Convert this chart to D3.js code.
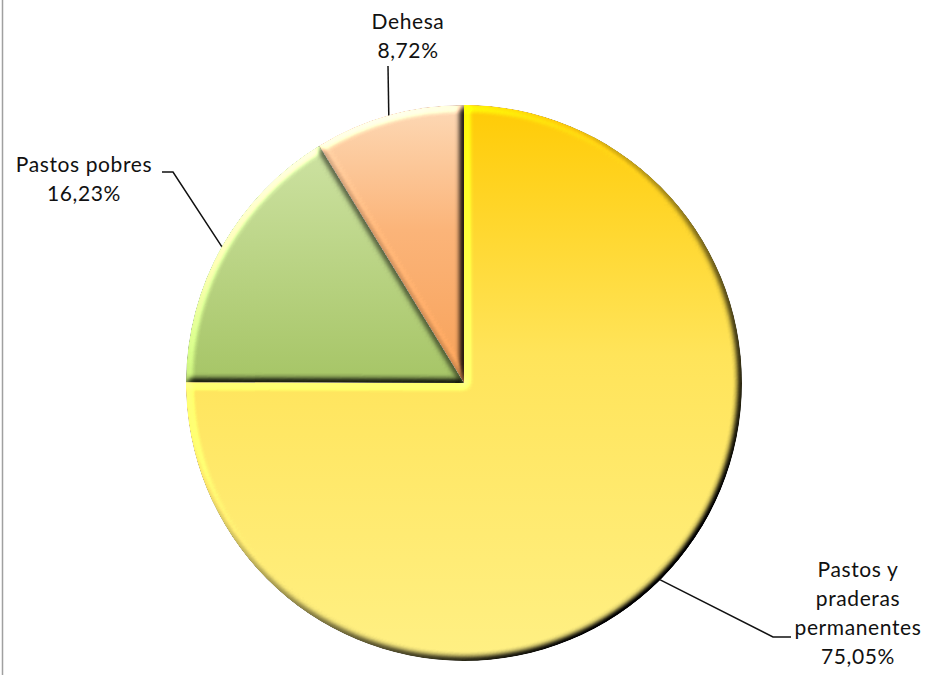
<!DOCTYPE html>
<html>
<head>
<meta charset="utf-8">
<script src="https://cdn.jsdelivr.net/npm/d3@7"></script>
<style>
  html, body { margin: 0; padding: 0; background: #fff; }
  svg { display: block; }
  text { font-family: Lato, "Open Sans", sans-serif; font-size: 21px; fill: #111; letter-spacing: 0.6px; }
</style>
</head>
<body>
<script>
// ---- data ----
const categories = ["Pastos y praderas permanentes", "Pastos pobres", "Dehesa"];
const values = [75.05, 16.23, 8.72];
const labelNameLines = [["Pastos y", "praderas", "permanentes"], ["Pastos pobres"], ["Dehesa"]];

// ---- styling / layout ----
const W = 928, H = 675;
const cx = 464, cy = 383, R = 278;
const gradStops = [
  [["0%", "#ffcb05"], ["45%", "#ffe45a"], ["100%", "#fff084"]],
  [["0%", "#cde2a2"], ["100%", "#a6c566"]],
  [["0%", "#fdd9b6"], ["45%", "#fbb479"], ["100%", "#f7a158"]]
];
// label layout: center x, first baseline, elbow point, end of horizontal segment
const labelLayout = [
  { x: 858, y: 577, elbow: [773, 637], end: [791, 637] },
  { x: 84,  y: 172, elbow: [173, 172], end: [162, 172] },
  { x: 408, y: 29,  elbow: [388, 66],  end: null }
];
const lineH = 29;

const fmt = d3.formatLocale({ decimal: ",", thousands: ".", grouping: [3], currency: ["", "€"] }).format(".2f");

const svg = d3.select("body").append("svg").attr("width", W).attr("height", H);
const defs = svg.append("defs");

// bevel filter
const f = defs.append("filter").attr("id", "bevel")
  .attr("x", "-5%").attr("y", "-5%").attr("width", "110%").attr("height", "110%")
  .attr("color-interpolation-filters", "sRGB");
f.append("feGaussianBlur").attr("in", "SourceAlpha").attr("stdDeviation", 3.8).attr("result", "blur");
const dl = f.append("feDiffuseLighting").attr("in", "blur").attr("surfaceScale", 5)
  .attr("diffuseConstant", 1).attr("lighting-color", "#ffffff").attr("result", "light");
dl.append("feDistantLight").attr("azimuth", 225).attr("elevation", 45);
f.append("feComposite").attr("in", "SourceGraphic").attr("in2", "light")
  .attr("operator", "arithmetic").attr("k1", 1.414).attr("k2", 0).attr("k3", 0).attr("k4", 0).attr("result", "lit");
f.append("feComposite").attr("in", "lit").attr("in2", "SourceAlpha").attr("operator", "in");

gradStops.forEach((stops, i) => {
  const g = defs.append("linearGradient").attr("id", "g" + i)
    .attr("x1", 0).attr("y1", 0).attr("x2", 0).attr("y2", 1);
  stops.forEach(s => g.append("stop").attr("offset", s[0]).attr("stop-color", s[1]));
});

// left border
svg.append("line").attr("x1", 2.5).attr("x2", 2.5).attr("y1", 0).attr("y2", H)
  .attr("stroke", "#a0a0a0").attr("stroke-width", 1.5);

const pie = d3.pie().sort(null).value(d => d)(values);
const arc = d3.arc().innerRadius(0).outerRadius(R);

const g = svg.append("g").attr("transform", `translate(${cx},${cy})`);
g.selectAll("path.slice").data(pie).join("path")
  .attr("class", "slice")
  .attr("d", arc)
  .attr("fill", (d, i) => `url(#g${i})`)
  .attr("filter", "url(#bevel)");

// leader lines and labels
pie.forEach((d, i) => {
  const a = (d.startAngle + d.endAngle) / 2;
  const sx = cx + R * Math.sin(a), sy = cy - R * Math.cos(a);
  const L = labelLayout[i];
  const pts = [[sx, sy], L.elbow];
  if (L.end) pts.push(L.end);
  svg.append("path").attr("d", d3.line()(pts))
    .attr("fill", "none").attr("stroke", "#111").attr("stroke-width", 1.5);
  const lines = labelNameLines[i].concat([fmt(values[i]) + "%"]);
  const t = svg.append("text").attr("text-anchor", "middle");
  lines.forEach((s, k) => t.append("tspan").attr("x", L.x).attr("y", L.y + k * lineH).text(s));
});
</script>
</body>
</html>
